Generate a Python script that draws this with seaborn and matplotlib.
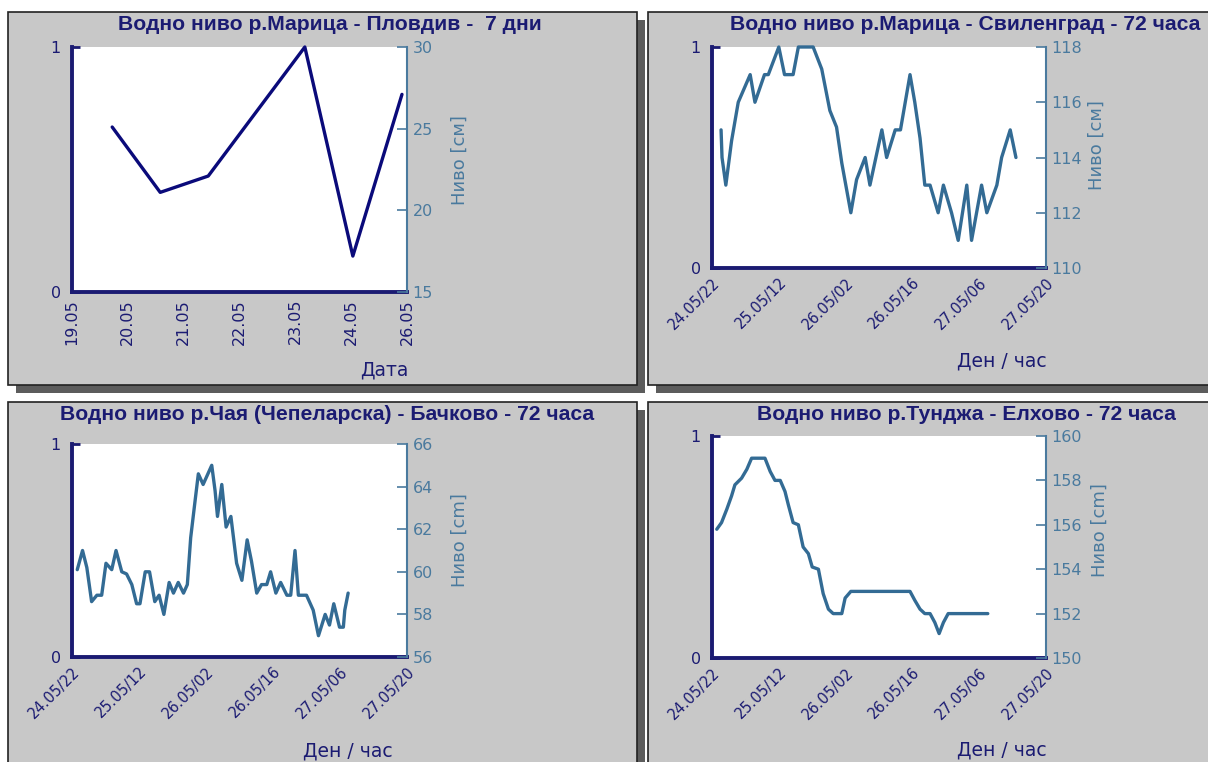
import matplotlib
matplotlib.use("Agg")
import matplotlib.pyplot as plt
import seaborn as sns
from matplotlib.patches import Rectangle
from matplotlib.ticker import MultipleLocator, AutoMinorLocator

# ---- data ----
# panel 1: Марица - Пловдив, position on the date axis (one unit per label)
days1 = [0.72, 1.58, 2.44, 4.17, 5.03, 5.91]
level1 = [25.1, 21.1, 22.1, 30.0, 17.2, 27.1]
day_labels = ["19.05", "20.05", "21.05", "22.05", "23.05", "24.05", "26.05"]

# panels 2-4: hours after 24.05 22:00
hours2 = [1.9, 2.1, 2.9, 4.1, 5.5, 8.0, 9.0, 11.0, 11.8, 14.0, 15.2, 17.0, 18.1, 21.2, 23.0,
          24.7, 26.1, 27.2, 29.1, 30.3, 32.1, 33.1, 35.6, 36.6, 38.4, 39.5, 41.5, 42.5, 43.6,
          44.6, 45.7, 47.4, 48.5, 50.2, 51.6, 53.4, 54.4, 56.5, 57.6, 59.7, 60.7, 62.5, 63.7]
level2 = [115, 114, 113, 114.6, 116, 117, 116, 117, 117, 118, 117, 117, 118, 118, 117.2,
          115.7, 115.1, 113.8, 112, 113.2, 114, 113, 115, 114, 115, 115, 117, 116, 114.7,
          113, 113, 112, 113, 112, 111, 113, 111, 113, 112, 113, 114, 115, 114]

hours3 = [1.1, 2.2, 3.1, 4.1, 5.2, 6.2, 7.1, 8.3, 9.2, 10.4, 11.4, 12.5, 13.5, 14.2, 15.3,
          16.2, 17.3, 18.2, 19.2, 20.3, 21.2, 22.2, 23.3, 24.1, 24.8, 25.7, 26.4, 27.4, 29.2,
          29.9, 30.4, 31.3, 32.2, 33.2, 33.8, 34.4, 35.5, 36.6, 37.5, 38.6, 39.6, 40.7, 41.5,
          42.6, 43.6, 44.9, 45.7, 46.6, 47.3, 49.0, 50.4, 51.5, 52.9, 53.8, 54.7, 55.9, 56.7,
          57.0, 57.7]
level3 = [60.1, 61.0, 60.2, 58.6, 58.9, 58.9, 60.4, 60.1, 61.0, 60.0, 59.9, 59.4, 58.5, 58.5,
          60.0, 60.0, 58.6, 58.9, 58.0, 59.5, 59.0, 59.5, 59.0, 59.4, 61.6, 63.3, 64.6, 64.1,
          65.0, 63.8, 62.6, 64.1, 62.1, 62.6, 61.5, 60.4, 59.6, 61.5, 60.5, 59.0, 59.4, 59.4,
          60.0, 59.0, 59.5, 58.9, 58.9, 61.0, 58.9, 58.9, 58.2, 57.0, 58.0, 57.5, 58.5, 57.4,
          57.4, 58.2, 59.0]

hours4 = [1.0, 2.0, 3.1, 4.1, 4.8, 6.2, 7.3, 8.3, 11.1, 12.2, 13.2, 14.3, 15.3, 16.0, 17.0,
          18.1, 19.1, 20.2, 21.0, 22.3, 23.3, 24.4, 25.4, 27.2, 27.9, 29.1, 41.5, 42.5, 43.6,
          44.6, 45.7, 46.7, 47.6, 48.5, 49.5, 57.8]
level4 = [155.8, 156.1, 156.7, 157.3, 157.8, 158.1, 158.5, 159.0, 159.0, 158.4, 158.0, 158.0,
          157.5, 156.9, 156.1, 156.0, 155.0, 154.7, 154.1, 154.0, 152.9, 152.2, 152.0, 152.0,
          152.7, 153.0, 153.0, 152.6, 152.2, 152.0, 152.0, 151.6, 151.1, 151.6, 152.0, 152.0]

hour_labels = ["24.05/22", "25.05/12", "26.05/02", "26.05/16", "27.05/06", "27.05/20"]

titles = ["Водно ниво р.Марица - Пловдив -  7 дни",
          "Водно ниво р.Марица - Свиленград - 72 часа",
          "Водно ниво р.Чая (Чепеларска) - Бачково - 72 часа",
          "Водно ниво р.Тунджа - Елхово - 72 часа"]

NAVY = "#1b1b72"
STEEL = "#4a7a9e"
LINE = "#336b94"
GRAY = "#c8c8c8"

W, H = 1208, 762
sns.set_style("white")
plt.rcParams["font.family"] = ["DejaVu Sans"]

fig = plt.figure(figsize=(W / 100, H / 100), dpi=100, facecolor="white")


def px_rect(x0, y0, x1, y1, **kw):
    r = Rectangle((x0 / W, 1 - y1 / H), (x1 - x0) / W, (y1 - y0) / H,
                  transform=fig.transFigure, zorder=-10, **kw)
    fig.patches.append(r)


def px_axes(x0, y0, x1, y1):
    return fig.add_axes([x0 / W, 1 - y1 / H, (x1 - x0) / W, (y1 - y0) / H])


# panel backgrounds with shadows
panels = [(8, 12, 637, 385), (648, 12, 1220, 385), (8, 402, 637, 775), (648, 402, 1220, 775)]
for x0, y0, x1, y1 in panels:
    px_rect(x0 + 8, y0 + 8, x1 + 8, y1 + 8, facecolor="#5c5c5c", edgecolor="none")
for x0, y0, x1, y1 in panels:
    px_rect(x0, y0, x1, y1, facecolor=GRAY, edgecolor="#222222", linewidth=1.2)


def setup(box, x, y, ylim, ystep, color, xmax, major, minor_n, labels, rot):
    ax = px_axes(*box)
    ax.set_facecolor("white")
    ax.set_ylim(0, 1)
    ax.set_yticks([0, 1])
    ax.set_yticklabels(["0", "1"])
    ax.tick_params(axis="y", direction="in", length=6, width=2, color=NAVY,
                   labelcolor=NAVY, labelsize=11.5, pad=8)
    for s in ["top", "right"]:
        ax.spines[s].set_visible(False)
    for s in ["left", "bottom"]:
        ax.spines[s].set_color(NAVY)
        ax.spines[s].set_linewidth(2.8)
    ax.set_xlim(0, xmax)
    ax.xaxis.set_minor_locator(AutoMinorLocator(minor_n))
    ax.set_xticks([i * major for i in range(len(labels))])
    if rot == 90:
        ax.set_xticklabels(labels, rotation=90, va="top", ha="center")
        lsize = 11.5
    else:
        ax.set_xticklabels(labels, rotation=45, ha="right", va="top", rotation_mode="anchor")
        lsize = 10.5
    ax.tick_params(axis="x", which="major", direction="in", length=9, width=1.5,
                   color=NAVY, labelcolor=NAVY, labelsize=lsize, pad=5)
    ax.tick_params(axis="x", which="minor", direction="in", length=6, width=1.5, color=NAVY)

    ax2 = ax.twinx()
    sns.lineplot(x=x, y=y, ax=ax2, color=color, linewidth=2.4, sort=False,
                 estimator=None, legend=False)
    for ln in ax2.lines:
        ln.set_clip_on(False)
    ax2.set_ylim(*ylim)
    ax2.yaxis.set_major_locator(MultipleLocator(ystep))
    ax2.set_xlim(0, xmax)
    ax2.set_ylabel("")
    ax2.set_xlabel("")
    ax.set_xlabel("")
    for s in ["top", "left", "bottom"]:
        ax2.spines[s].set_visible(False)
    ax2.spines["right"].set_color(STEEL)
    ax2.spines["right"].set_linewidth(1.5)
    ax2.tick_params(axis="y", direction="in", length=7, width=1.2, color=STEEL,
                    labelcolor=STEEL, labelsize=11.5, pad=4)
    return ax, ax2


setup((72, 47, 407, 292), days1, level1, (15, 30), 5, "#0a0a7a", 6, 1, 2, day_labels, 90)
setup((712, 47, 1046, 268), hours2, level2, (110, 118), 2, LINE, 70, 14, 5, hour_labels, 45)
setup((72, 444, 407, 657), hours3, level3, (56, 66), 2, LINE, 70, 14, 5, hour_labels, 45)
setup((712, 436, 1046, 658), hours4, level4, (150, 160), 2, LINE, 70, 14, 5, hour_labels, 45)

# titles
tpos = [(330, 25), (965, 25), (327, 415), (966, 415)]
for (tx, ty), t in zip(tpos, titles):
    fig.text(tx / W, 1 - ty / H, t, ha="center", va="center", fontsize=15.2,
             fontweight="bold", color=NAVY, family=["Liberation Sans"])

# y labels (right side)
ylabs = [("Ниво [см]", 460, 160), ("Ниво [см]", 1097, 145), ("Ниво [cm]", 460, 540), ("Ниво [cm]", 1100, 530)]
for t, tx, ty in ylabs:
    fig.text(tx / W, 1 - ty / H, t, ha="center", va="center", rotation=90,
             fontsize=13, color=STEEL)

# x labels
xlabs = [("Дата", 384, 370), ("Ден / час", 1002, 361), ("Ден / час", 348, 751), ("Ден / час", 1002, 750)]
for t, tx, ty in xlabs:
    fig.text(tx / W, 1 - ty / H, t, ha="center", va="center", fontsize=13.5, color=NAVY)

fig.savefig("out.png", dpi=100, facecolor="white")
